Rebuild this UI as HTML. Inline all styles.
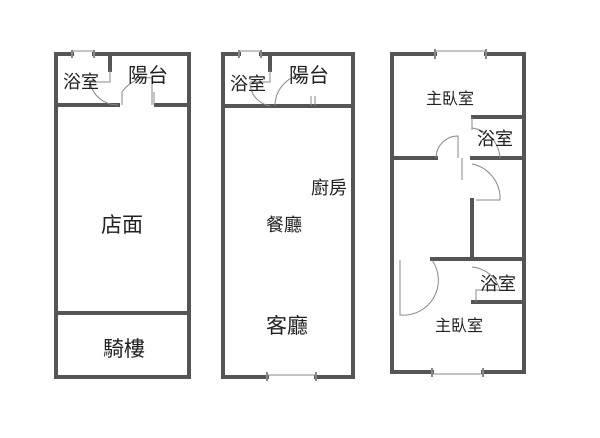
<!DOCTYPE html>
<html><head><style>
body{margin:0;background:#fff}
svg text{font-family:"Liberation Sans","Noto Sans CJK TC",sans-serif;fill:#222}
</style></head><body>
<svg width="600" height="433" viewBox="0 0 600 433" xmlns="http://www.w3.org/2000/svg">
<g stroke="#555" stroke-width="4" fill="none" stroke-linecap="square">
<!-- plan 1 -->
<path d="M72 54 H56 V377 H189 V54 H94"/>
<path d="M110 54 V70"/>
<path d="M56 105 H118 M156 105 H189"/>
<path d="M56 313 H189"/>
<!-- plan 2 -->
<path d="M239 54 H223 V377 H267 M316 377 H353 V54 H261"/>
<path d="M270 54 V70"/>
<path d="M223 106 H353"/>
<!-- plan 3 -->
<path d="M435 54 H392 V372 H432 M483 372 H524 V54 H486"/>
<path d="M473 117 H524"/>
<path d="M392 158 H436 M472 158 H524"/>
<path d="M472 200 V259 H524 M432 259 H472"/>
<path d="M473 302 H524"/>
</g>
<g stroke="#888" stroke-width="1" fill="none">
<path d="M72 51 H94 M239 51 H261 M267 375 H316 M435 51 H486 M432 374 H483"/>
<path d="M72 50 V58 M94 50 V58 M239 50 V58 M261 50 V58 M267 372 V381 M316 372 V381 M435 49 V59 M486 49 V59 M432 368 V377 M483 368 V377" stroke-width="2"/>
<path d="M110 70 V82 H90 M90 82 A28 28 0 0 0 118 105"/>
<path d="M122 105 V92 A32 32 0 0 1 152 78 V105 M154 92 V105"/>
<path d="M270 70 V82 H250 M250 82 A24 24 0 0 0 270 106"/>
<path d="M275 106 A32 32 0 0 1 307 74 M311 96 V106 M315 96 V106"/>
<path d="M472 117 V130 M472 128 A32 32 0 0 1 500 158"/>
<path d="M436 158 A22 22 0 0 1 458 136 V158 M462 158 V180"/>
<path d="M472 164 A35 35 0 0 1 500 200 H476"/>
<path d="M400 260 V315 A35 35 0 0 0 432 260"/>
<path d="M472 267 A32 32 0 0 1 500 290 H476 V302"/>
</g>
<g font-size="18">
<text x="63" y="88">浴室</text>
<text x="128" y="82" font-size="20">陽台</text>
<text x="101" y="232" font-size="21">店面</text>
<text x="103" y="356" font-size="21">騎樓</text>
<text x="230" y="90">浴室</text>
<text x="289" y="82" font-size="20">陽台</text>
<text x="311" y="194">廚房</text>
<text x="266" y="231">餐廳</text>
<text x="266" y="333" font-size="21">客廳</text>
<text x="426" y="104" font-size="16">主臥室</text>
<text x="477" y="145">浴室</text>
<text x="480" y="290">浴室</text>
<text x="435" y="331" font-size="16">主臥室</text>
</g>
</svg>
</body></html>
